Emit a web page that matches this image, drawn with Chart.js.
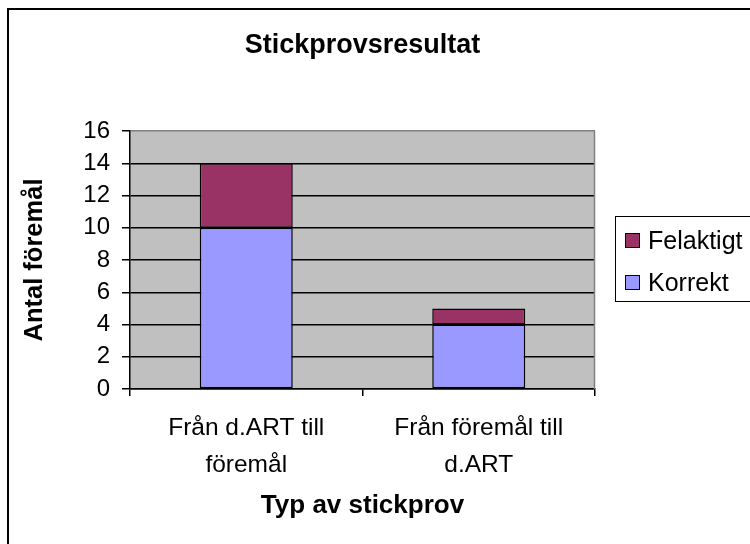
<!DOCTYPE html>
<html>
<head>
  <meta charset="utf-8">
  <title>Stickprovsresultat</title>
  <script src="https://cdn.jsdelivr.net/npm/chart.js"></script>
  <style>
    body { margin: 0; background: #fff; }
    canvas { display: block; }
  </style>
</head>
<body>
  <canvas id="chart" width="750" height="544"></canvas>

  <script>
    // data
    const categories = [["Från d.ART till", "föremål"], ["Från föremål till", "d.ART"]];
    const korrekt = [10, 4];
    const felaktigt = [4, 1];
    const yMax = 16;
    const yStep = 2;

    const FONT = "'Liberation Sans', Arial, sans-serif";

    // gray plot area + outer frame + title + legend (Excel look)
    const excelLook = {
      id: "excelLook",
      beforeDraw(chart) {
        const { ctx, chartArea: a } = chart;
        ctx.save();
        ctx.fillStyle = "#fff";
        ctx.fillRect(0, 0, chart.width, chart.height);
        ctx.fillStyle = "#c0c0c0";
        ctx.fillRect(a.left, a.top, a.right - a.left, a.bottom - a.top);
        ctx.restore();
      },
      afterDraw(chart) {
        const { ctx, chartArea: a } = chart;
        ctx.save();
        // plot right border
        ctx.strokeStyle = "#808080";
        ctx.lineWidth = 1.5;
        ctx.beginPath();
        ctx.moveTo(a.right - 0.5, a.top);
        ctx.lineTo(a.right - 0.5, a.bottom);
        ctx.stroke();

        // outer frame
        ctx.strokeStyle = "#000";
        ctx.lineWidth = 2;
        ctx.strokeRect(8, 9, 800, 600);

        // title
        ctx.fillStyle = "#000";
        ctx.font = "bold 27px " + FONT;
        ctx.textAlign = "center";
        ctx.textBaseline = "middle";
        ctx.fillText("Stickprovsresultat", (a.left + a.right) / 2, 46);

        // legend
        ctx.lineWidth = 1;
        ctx.strokeRect(615.5, 216.5, 160, 85);
        const ds = chart.data.datasets.slice().reverse();
        ctx.textAlign = "left";
        ctx.font = "25px " + FONT;
        ds.forEach((d, i) => {
          const y = 241 + i * 42;
          ctx.fillStyle = d.backgroundColor;
          ctx.fillRect(625.5, y - 7.5, 14, 14);
          ctx.strokeRect(625.5, y - 7.5, 14, 14);
          ctx.fillStyle = "#000";
          ctx.fillText(d.label, 648, y + 1);
        });
        ctx.restore();
      }
    };

    new Chart(document.getElementById("chart"), {
      type: "bar",
      data: {
        labels: categories,
        datasets: [
          { label: "Korrekt", data: korrekt, backgroundColor: "#9999ff" },
          { label: "Felaktigt", data: felaktigt, backgroundColor: "#993366" }
        ]
      },
      options: {
        responsive: false,
        animation: false,
        layout: { padding: { top: 131, right: 155, left: 0, bottom: 0 } },
        datasets: {
          bar: {
            borderColor: "#000",
            borderWidth: 1.5,
            borderSkipped: false,
            barPercentage: 0.4,
            categoryPercentage: 1
          }
        },
        plugins: {
          legend: { display: false },
          title: { display: false },
          tooltip: { enabled: false }
        },
        scales: {
          x: {
            stacked: true,
            grid: { offset: true, drawOnChartArea: false, color: "#000", tickLength: 7, lineWidth: 1.5 },
            border: { color: "#000", width: 1.5 },
            ticks: { color: "#000", padding: 14, font: { family: FONT, size: 24.5, lineHeight: 1.5 }, maxRotation: 0 },
            title: {
              display: true,
              text: "Typ av stickprov",
              color: "#000",
              font: { family: FONT, size: 26, weight: "bold" },
              padding: { top: 0, bottom: 23 }
            },
            afterFit(s) { s.height = 155; }
          },
          y: {
            stacked: true,
            min: 0,
            max: yMax,
            grid: {
              color: (c) => (c.tick && c.tick.value === yMax ? "#808080" : "#000"),
              tickColor: "#000",
              tickLength: 8,
              lineWidth: 1.5
            },
            border: { color: "#000", width: 1.5 },
            ticks: { stepSize: yStep, color: "#000", padding: 12, font: { family: FONT, size: 24 } },
            title: {
              display: true,
              text: "Antal föremål",
              color: "#000",
              font: { family: FONT, size: 25.5, weight: "bold" },
              padding: { top: 20, bottom: 0 }
            },
            afterFit(s) { s.width = 130; }
          }
        }
      },
      plugins: [excelLook]
    });
  </script>
</body>
</html>
